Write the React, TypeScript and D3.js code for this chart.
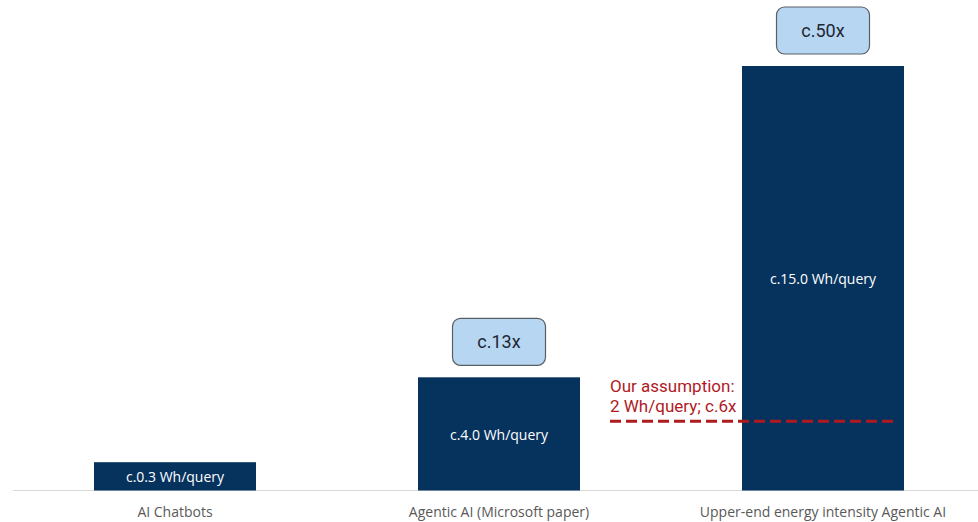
import React from "react";
import * as d3 from "d3";

const categories = ["AI Chatbots", "Agentic AI (Microsoft paper)", "Upper-end energy intensity Agentic AI"];
const values = [0.3, 4.0, 15.0];
const valueLabels = ["c.0.3 Wh/query", "c.4.0 Wh/query", "c.15.0 Wh/query"];
const multiples = ["", "c.13x", "c.50x"];
const assumptionLevel = 2.45;
const assumptionLines = ["Our assumption:", "2 Wh/query; c.6x"];

const W = 978;
const H = 522;

export default function App() {
  const x = d3.scaleBand<string>().domain(categories).range([13, 985]).paddingInner(0.5).paddingOuter(0.25);
  const y = d3.scaleLinear().domain([0, 15]).range([490.5, 66]);
  const minDisplay = 1.0;
  const bw = x.bandwidth();
  const last = categories[2];
  const ay = y(assumptionLevel);

  return (
    <svg width={W} height={H} style={{ position: "absolute", left: 0, top: 0, background: "#fff" }}>
      <line x1={13} x2={W} y1={490.5} y2={490.5} stroke="#d9d9d9" strokeWidth={1.2} />
      {categories.map((c, i) => {
        const v = Math.max(values[i], minDisplay);
        const top = y(v);
        const cx = (x(c) as number) + bw / 2;
        return (
          <g key={c}>
            <rect x={x(c)} y={top} width={bw} height={y(0) - top} fill="#06335e" />
            <text x={cx} y={(top + y(0)) / 2 + 1} dy="0.35em" textAnchor="middle" fill="#ffffff"
              fontFamily="'Open Sans', 'Liberation Sans', sans-serif" fontSize={14}>
              {valueLabels[i]}
            </text>
            <text x={cx} y={516.5} textAnchor="middle" fill="#595959"
              fontFamily="'Open Sans', 'Liberation Sans', sans-serif" fontSize={14}>
              {c}
            </text>
            {multiples[i] && (
              <g>
                <rect x={cx - 46.5} y={top - 59} width={93} height={47} rx={8} ry={8}
                  fill="#b7d6f1" stroke="#5a5f66" strokeWidth={1.2} />
                <text x={cx} y={top - 35.5} dy="0.36em" textAnchor="middle" fill="#1e2633"
                  fontFamily="Roboto, sans-serif" fontSize={18}>
                  {multiples[i]}
                </text>
              </g>
            )}
          </g>
        );
      })}
      <line x1={610} x2={(x(last) as number) + bw - 6} y1={ay} y2={ay}
        stroke="#b01a1f" strokeWidth={3} strokeDasharray="11,5" />
      {assumptionLines.map((t, i) => (
        <text key={t} x={610} y={392 + i * 20} fill="#b01a1f" fontFamily="Roboto, sans-serif" fontSize={17}>
          {t}
        </text>
      ))}
    </svg>
  );
}
